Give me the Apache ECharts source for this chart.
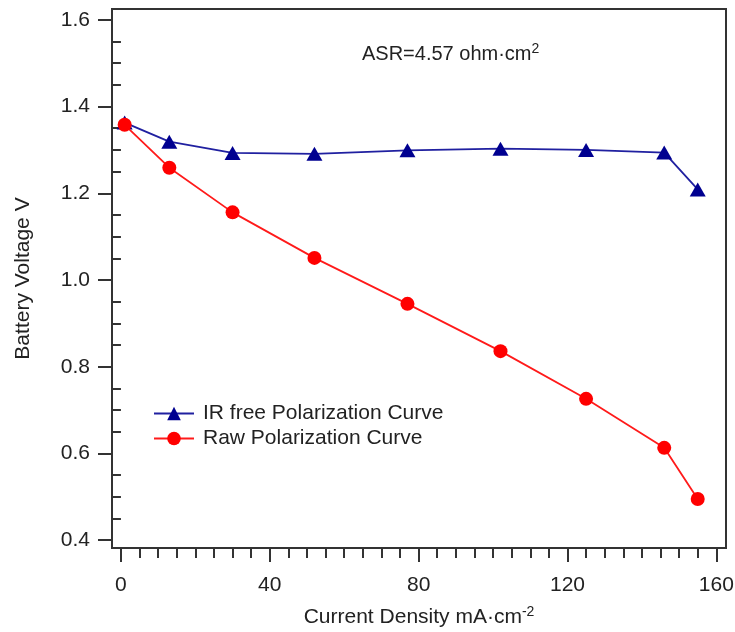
<!DOCTYPE html>
<html>
<head>
<meta charset="utf-8">
<script src="https://cdn.jsdelivr.net/npm/echarts@6/dist/echarts.min.js"></script>
<style>html,body{margin:0;padding:0;background:#fff;}#c{width:735px;height:632px;}</style>
</head>
<body>
<div id="c"></div>
<script>
// Data
var currentDensity = [1, 13, 30, 52, 77, 102, 125, 146, 155];
var irFreeVoltage = [1.363, 1.319, 1.293, 1.291, 1.299, 1.303, 1.300, 1.294, 1.209];
var rawVoltage = [1.358, 1.259, 1.156, 1.051, 0.945, 0.836, 0.726, 0.613, 0.495];
var xMajorTicks = [0, 40, 80, 120, 160];
var xMinorTicks = [5,10,15,20,25,30,35,45,50,55,60,65,70,75,85,90,95,100,105,110,115,125,130,135,140,145,150,155];
var yMajorTicks = [0.4, 0.6, 0.8, 1.0, 1.2, 1.4, 1.6];
var yMinorTicks = [0.45,0.5,0.55,0.65,0.7,0.75,0.85,0.9,0.95,1.05,1.1,1.15,1.25,1.3,1.35,1.45,1.5,1.55];
var seriesNames = ['IR free Polarization Curve', 'Raw Polarization Curve'];

var FONT = 'Liberation Sans, Arial, sans-serif';
var TXT = '#222222';
var AX = '#333333';

function pairs(xs, ys){ return xs.map(function(x,i){ return [x, ys[i]]; }); }

var chart = echarts.init(document.getElementById('c'), null, {renderer:'canvas'});
chart.setOption({
  animation: false,
  backgroundColor: '#ffffff',
  textStyle: {fontFamily: FONT},
  grid: {left: 112, right: 9, top: 9, bottom: 84, show: true, borderColor: AX, borderWidth: 2, backgroundColor: 'transparent',
    containLabel: false, outerBoundsMode: 'none'},
  legend: {
    data: seriesNames,
    orient: 'vertical',
    left: 153, top: 403, padding: 0,
    itemWidth: 40, itemHeight: 17, itemGap: 4,
    textStyle: {fontSize: 21, color: TXT, fontFamily: FONT, lineHeight: 20, padding: [0,0,0,4]},
    selectedMode: false
  },
  xAxis: [{
    type: 'value', min: -2.4, max: 162.6,
    name: 'Current Density mA·cm{sup|-2}',
    nameLocation: 'middle', nameGap: 57,
    nameTextStyle: {fontSize: 21, color: TXT, fontFamily: FONT, lineHeight: 24,
      rich: {sup: {fontSize: 14, color: TXT, fontFamily: FONT, verticalAlign: 'top', lineHeight: 14}}},
    axisLine: {show: true, onZero: false, lineStyle: {color: AX, width: 2}},
    axisTick: {show: true, inside: false, length: 14, customValues: xMajorTicks, lineStyle: {color: AX, width: 2}},
    axisLabel: {show: true, margin: 27, fontSize: 21, color: TXT, fontFamily: FONT, customValues: xMajorTicks},
    splitLine: {show: false}
  }, {
    type: 'value', min: -2.4, max: 162.6, position: 'bottom', gridIndex: 0,
    axisLine: {show: false},
    axisTick: {show: true, inside: false, length: 10, customValues: xMinorTicks, lineStyle: {color: AX, width: 2}},
    axisLabel: {show: false},
    splitLine: {show: false}
  }],
  yAxis: [{
    type: 'value', min: 0.382, max: 1.625,
    name: 'Battery Voltage V',
    nameLocation: 'middle', nameGap: 78,
    nameTextStyle: {fontSize: 21, color: TXT, fontFamily: FONT},
    axisLine: {show: true, onZero: false, lineStyle: {color: AX, width: 2}},
    axisTick: {show: true, inside: false, length: 14, customValues: yMajorTicks, lineStyle: {color: AX, width: 2}},
    axisLabel: {show: true, margin: 22, fontSize: 21, color: TXT, fontFamily: FONT, customValues: yMajorTicks,
      formatter: function(v){ return v.toFixed(1); }},
    splitLine: {show: false}
  }, {
    type: 'value', min: 0.382, max: 1.625, position: 'left',
    axisLine: {show: false},
    axisTick: {show: true, inside: false, length: 8, customValues: yMinorTicks, lineStyle: {color: AX, width: 2}},
    axisLabel: {show: false},
    splitLine: {show: false}
  }],
  graphic: [{
    type: 'text', left: 362, top: 42,
    style: {
      text: 'ASR=4.57 ohm·cm{sup|2}',
      fontSize: 20, fill: TXT, fontFamily: FONT, lineHeight: 24,
      rich: {sup: {fontSize: 14, fill: TXT, fontFamily: FONT, verticalAlign: 'top', lineHeight: 14}}
    }
  }],
  series: [{
    name: seriesNames[0], type: 'line',
    xAxisIndex: 0, yAxisIndex: 0,
    data: pairs(currentDensity, irFreeVoltage),
    symbol: 'triangle', symbolSize: [16, 14], showAllSymbol: true,
    lineStyle: {color: '#2020a0', width: 1.8},
    itemStyle: {color: '#000090', borderWidth: 0},
    z: 2
  }, {
    name: seriesNames[1], type: 'line',
    xAxisIndex: 0, yAxisIndex: 0,
    data: pairs(currentDensity, rawVoltage),
    symbol: 'circle', symbolSize: 14, showAllSymbol: true,
    lineStyle: {color: '#ff1a1a', width: 1.8},
    itemStyle: {color: '#ff0000', borderWidth: 0},
    z: 3
  }]
});
</script>
</body>
</html>
